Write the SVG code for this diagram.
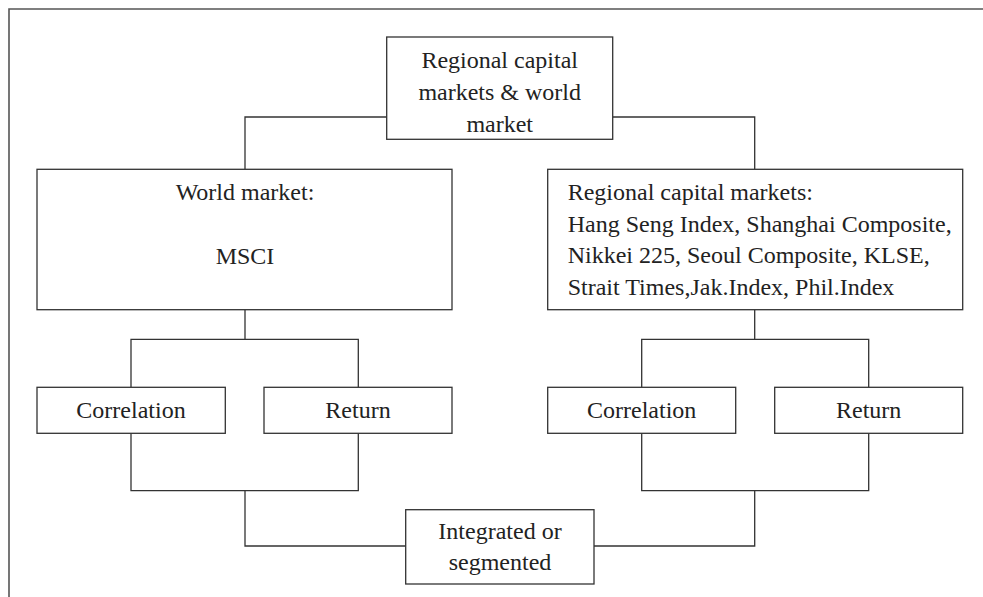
<svg xmlns="http://www.w3.org/2000/svg" width="983" height="597" viewBox="0 0 983 597">
<style>
.box{fill:#fff;stroke:#333;stroke-width:1.3}
.frame{fill:none;stroke:#555;stroke-width:1.6}
.conn{fill:none;stroke:#333;stroke-width:1.3}
text{font-family:"Liberation Serif","Times New Roman",serif;font-size:24px;fill:#222}
.c{text-anchor:middle}
</style>
<rect width="983" height="597" fill="#fff"/>
<path class="frame" d="M9,600 V9 H990"/>
<g id="connectors">
<path class="conn" d="M387,117 H245 V169.3"/>
<path class="conn" d="M612.7,117 H754.7 V169.3"/>
<path class="conn" d="M245,309.7 V339.3 M131,387.3 V339.3 H358.3 V387.3"/>
<path class="conn" d="M131,433.3 V490.7 H358.3 V433.3 M245,490.7 V546 H405.7"/>
<path class="conn" d="M754.7,309.7 V339.3 M641.7,387.3 V339.3 H868.7 V387.3"/>
<path class="conn" d="M641.7,433.3 V490.7 H868.7 V433.3 M754.7,490.7 V546 H594"/>
</g>
<g id="top">
<rect class="box" x="386.7" y="37" width="226" height="102.3"/>
<text class="c" x="499.7" y="68.3">Regional capital</text>
<text class="c" x="499.7" y="100">markets &amp; world</text>
<text class="c" x="499.7" y="131.7">market</text>
</g>
<g id="world">
<rect class="box" x="37" y="169.3" width="415" height="140.4"/>
<text class="c" x="245" y="200">World market:</text>
<text class="c" x="245" y="264">MSCI</text>
</g>
<g id="regional">
<rect class="box" x="547.7" y="169.3" width="415" height="140.4"/>
<text x="567.7" y="200">Regional capital markets:</text>
<text x="567.7" y="231.7">Hang Seng Index, Shanghai Composite,</text>
<text x="567.7" y="263.3">Nikkei 225, Seoul Composite, KLSE,</text>
<text x="567.7" y="295">Strait Times,Jak.Index, Phil.Index</text>
</g>
<g id="corrL">
<rect class="box" x="37" y="387.3" width="188.3" height="46"/>
<text class="c" x="131" y="418">Correlation</text>
</g>
<g id="retL">
<rect class="box" x="264" y="387.3" width="188" height="46"/>
<text class="c" x="358" y="418">Return</text>
</g>
<g id="corrR">
<rect class="box" x="547.7" y="387.3" width="188" height="46"/>
<text class="c" x="641.7" y="418">Correlation</text>
</g>
<g id="retR">
<rect class="box" x="774.7" y="387.3" width="188" height="46"/>
<text class="c" x="868.7" y="418">Return</text>
</g>
<g id="integrated">
<rect class="box" x="405.7" y="509.7" width="188.3" height="74.3"/>
<text class="c" x="500" y="539.3">Integrated or</text>
<text class="c" x="500" y="570">segmented</text>
</g>
</svg>
